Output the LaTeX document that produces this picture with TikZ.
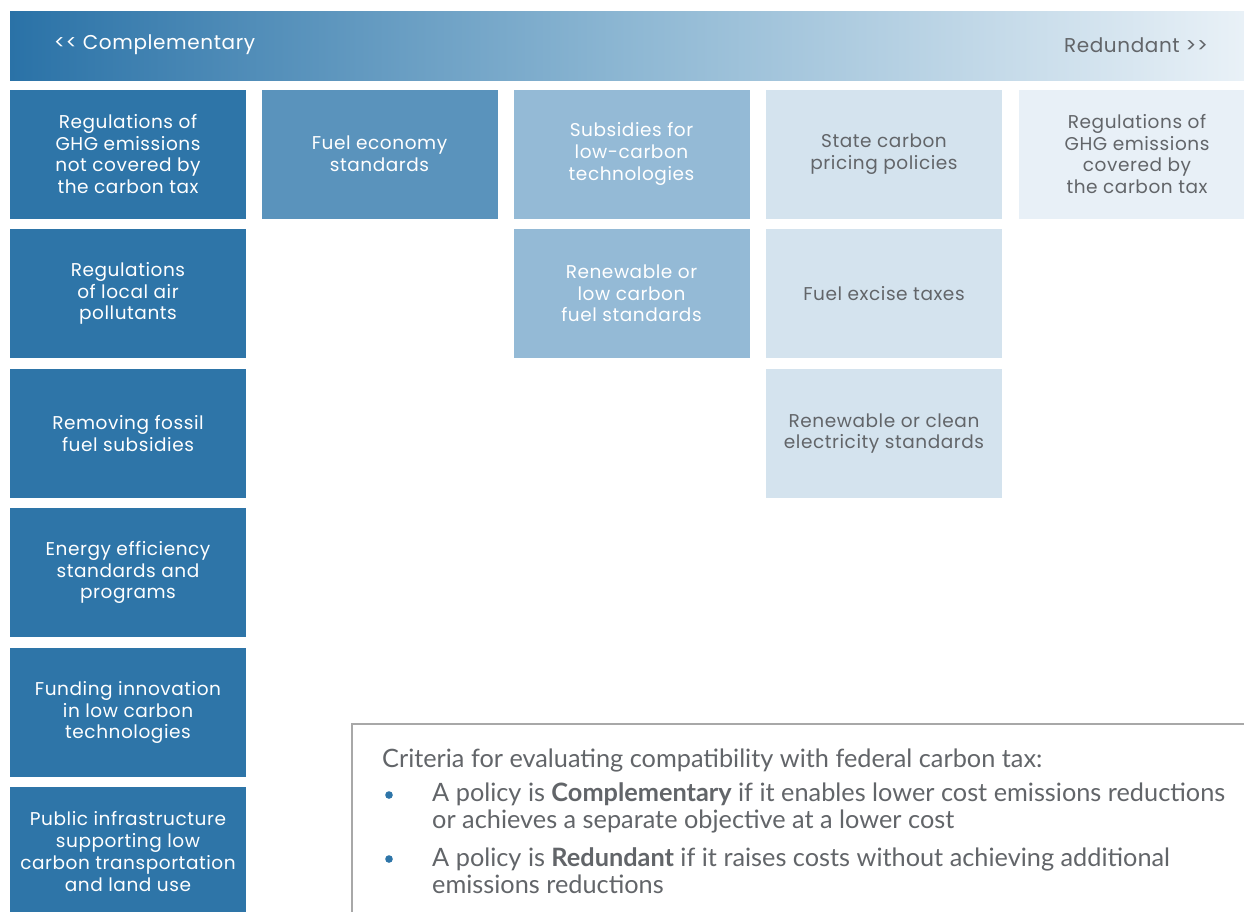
\documentclass[tikz,border=0pt]{standalone}
\usepackage{fontspec}
\setmainfont{Lato}
\newfontfamily\boxfont[LetterSpace=3]{Poppins}
\definecolor{cA}{HTML}{2E75A8}
\definecolor{cB}{HTML}{5A93BC}
\definecolor{cC}{HTML}{94BAD6}
\definecolor{cD}{HTML}{D4E3EE}
\definecolor{cE}{HTML}{E8F0F7}
\definecolor{gtxt}{HTML}{626569}
\definecolor{hdrL}{HTML}{2A72A7}
\definecolor{hdrM}{HTML}{8DB7D3}
\definecolor{hdrR}{HTML}{E9F1F7}
\definecolor{legline}{HTML}{A8A8A8}
\tikzset{
  pbox/.style={draw=none, minimum width=236pt, minimum height=129pt, align=center, inner sep=0pt,
     font=\boxfont\fontsize{18.5}{21.7}\selectfont},
  dark/.style={pbox, text=white},
  light/.style={pbox, text=gtxt},
  hdrtext/.style={font=\boxfont\fontsize{20}{24}\selectfont, inner sep=0pt},
  legtext/.style={font=\fontsize{25.3}{27}\selectfont, text=gtxt, inner sep=0pt, anchor=base west},
}
\begin{document}
\begin{tikzpicture}[x=1pt,y=-1pt]
\clip (0,0) rectangle (1244,911);
\useasboundingbox (0,0) rectangle (1244,911);
\fill[white] (0,0) rectangle (1244,911);
% header
\shade[left color=hdrL, right color=hdrR, middle color=hdrM] (10,11) rectangle (1244,80);
\node[hdrtext, text=white, anchor=west] (comp) at (54,45) {{<}{<} Complementary};
\node[hdrtext, text=gtxt, anchor=east] (red) at (1208,45) {Redundant {>}{>}};
% column 1
\node[dark, fill=cA] (a1) at (128,154) {Regulations of\\GHG emissions\\not covered by\\the carbon tax};
\node[dark, fill=cA] (a2) at (128,293.5) {Regulations\\of local air\\pollutants};
\node[dark, fill=cA] (a3) at (128,433.5) {Removing fossil\\fuel subsidies};
\node[dark, fill=cA] (a4) at (128,572.5) {Energy efficiency\\standards and\\programs};
\node[dark, fill=cA] (a5) at (128,712.5) {Funding innovation\\in low carbon\\technologies};
\node[dark, fill=cA] (a6) at (128,851.5) {Public infrastructure\\supporting low\\carbon transportation\\and land use};
% column 2
\node[dark, fill=cB] (b1) at (379.5,154) {Fuel economy\\standards};
% column 3
\node[dark, fill=cC] (c1) at (631.5,154) {Subsidies for\\low-carbon\\technologies};
\node[dark, fill=cC] (c2) at (631.5,293.5) {Renewable or\\low carbon\\fuel standards};
% column 4
\node[light, fill=cD] (d1) at (884,154) {State carbon\\pricing policies};
\node[light, fill=cD] (d2) at (884,293.5) {Fuel excise taxes};
\node[light, fill=cD] (d3) at (884,433.5) {Renewable or clean\\electricity standards};
% column 5
\node[light, fill=cE] (e1) at (1137,154) {Regulations of\\GHG emissions\\covered by\\the carbon tax};
% legend
\fill[white] (352,724) rectangle (1250,915);
\draw[legline, line width=1.2pt] (352,915) -- (352,724) -- (1250,724);
\node[legtext] (crit) at (382,767) {Criteria for evaluating compatibility with federal carbon tax:};
\node[legtext] (l1a) at (432,801) {A policy is \textbf{Complementary} if it enables lower cost emissions reductions};
\node[legtext] (l1b) at (432,828) {or achieves a separate objective at a lower cost};
\node[legtext] (l2a) at (432,866) {A policy is \textbf{Redundant} if it raises costs without achieving additional};
\node[legtext] (l2b) at (432,893) {emissions reductions};
\fill[cA] (389,795) circle (3.8pt);
\fill[cA] (389,859) circle (3.8pt);
\end{tikzpicture}
\end{document}
